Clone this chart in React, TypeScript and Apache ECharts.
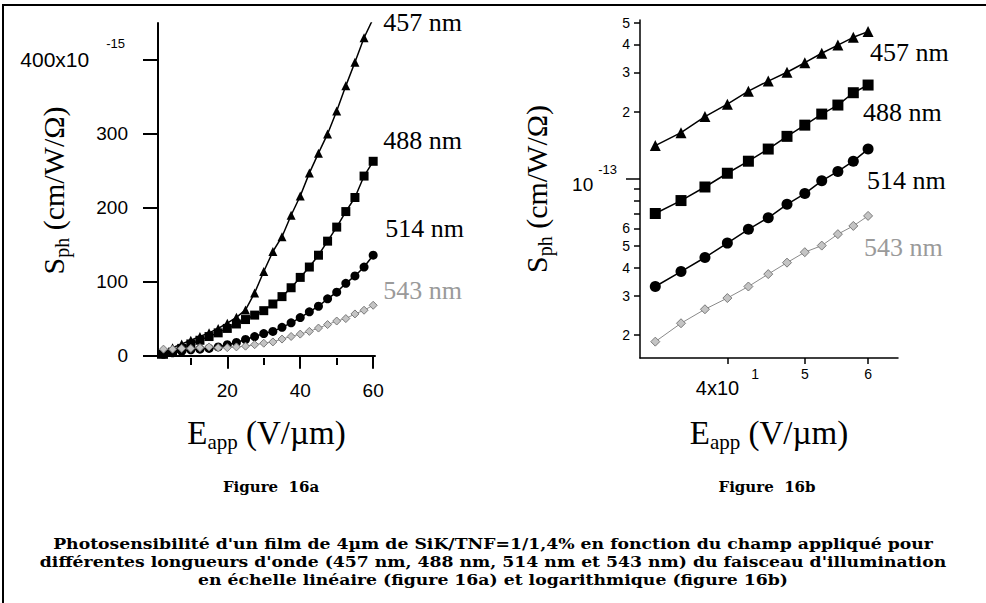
import React, { useEffect, useRef } from 'react';
import * as echarts from 'echarts';

// Applied field E_app (V/µm)
const fieldValues = [2.5, 5, 7.5, 10, 12.5, 15, 17.5, 20, 22.5, 25, 27.5, 30, 32.5, 35, 37.5, 40, 42.5, 45, 47.5, 50, 52.5, 55, 57.5, 60];
// Photosensitivity S_ph in units of 1e-15 cm/W/Ω
const s457 = [6, 11, 16, 21, 26, 31, 37, 44, 52, 62, 85, 114, 141, 161, 190, 216, 247, 274, 300, 331, 365, 397, 430, 456];
const s488 = [2, 5, 10, 16, 21, 26, 31, 37, 43, 49, 55, 61, 70, 80, 92, 106, 120, 136, 155, 174, 195, 214, 243, 263];
const s514 = [2, 4, 6, 8, 9, 10, 12, 15, 18, 22, 26, 30, 33, 38.5, 44.5, 51.6, 59.5, 67, 77, 86, 98, 108, 120, 136];
const s543 = [9, 9, 10, 10, 11, 12, 11, 11, 12, 13, 15, 17, 18.7, 22.6, 26.1, 29.3, 33, 37.5, 42.2, 47, 50.3, 56.6, 61.6, 68.3];
const seriesNames = ['457 nm', '488 nm', '514 nm', '543 nm'];

// Tick values
const yTicksA = [0, 100, 200, 300, 400];
const xTicksA = [20, 40, 60];
const xMinorTicksA = [10, 30, 50];
const xTicksB = [40, 50, 60];
const yMajorTicksB = [100];
const yMinorTicksB = [20, 30, 40, 50, 60, 70, 80, 90, 200, 300, 400, 500];
const yMinorLabelsB = [20, 30, 40, 50, 60, 200, 300, 400, 500];
const logPlotStart = 32.5;

const SERIF = '"Liberation Serif", "Times New Roman", serif';
const SANS = '"Liberation Sans", Arial, sans-serif';
const CAPTION_FONT = '"DejaVu Serif", serif';

export default function App() {
  const ref = useRef<HTMLDivElement>(null);

  useEffect(() => {
    if (!ref.current) return;
    const chart = echarts.init(ref.current, null, { renderer: 'svg' });

    const styles = [
      { symbol: 'triangle', sizeA: 9, sizeB: 11, color: '#000', border: '#000', line: '#000', lw: 1.5, labelColor: '#000', offA: [2, 4], offB: [-6, 21] },
      { symbol: 'rect', sizeA: 9, sizeB: 11, color: '#000', border: '#000', line: '#000', lw: 1.5, labelColor: '#000', offA: [2, -21], offB: [-13, 27] },
      { symbol: 'circle', sizeA: 9, sizeB: 11, color: '#000', border: '#000', line: '#000', lw: 1.5, labelColor: '#000', offA: [4, -27], offB: [-9, 31] },
      { symbol: 'diamond', sizeA: 8, sizeB: 9, color: '#c4c4c4', border: '#7a7a7a', line: '#8a8a8a', lw: 1, labelColor: '#9a9a9a', offA: [2, -15], offB: [-12, 32] },
    ];
    const allSeries = [s457, s488, s514, s543];

    const series: any[] = [];
    allSeries.forEach((vals, k) => {
      const st = styles[k];
      const dataA = fieldValues.map((x, i) => [x, vals[i]]);
      const dataB = fieldValues.map((x, i) => [x, vals[i]]).filter((d) => d[0] >= logPlotStart);
      const common = {
        type: 'line',
        name: seriesNames[k],
        symbol: st.symbol,
        showSymbol: true,
        lineStyle: { color: st.line, width: st.lw },
        itemStyle: { color: st.color, borderColor: st.border, borderWidth: k === 3 ? 1 : 0 },
      };
      series.push({
        ...common,
        xAxisIndex: 0,
        yAxisIndex: 0,
        symbolSize: st.sizeA,
        data: dataA,
        endLabel: {
          show: true,
          formatter: seriesNames[k],
          offset: st.offA,
          fontFamily: SERIF,
          fontSize: 26,
          color: st.labelColor,
        },
      });
      series.push({
        ...common,
        xAxisIndex: 2,
        yAxisIndex: 1,
        symbolSize: st.sizeB,
        data: dataB,
        endLabel: {
          show: true,
          formatter: seriesNames[k],
          offset: st.offB,
          fontFamily: SERIF,
          fontSize: 26,
          color: st.labelColor,
        },
      });
    });

    const sphName = '{s|S}{sub|ph}{s| (cm/W/Ω)}';
    const sphRich = {
      s: { fontSize: 30, fontFamily: SERIF, color: '#000', verticalAlign: 'top' },
      sub: { fontSize: 20, fontFamily: SERIF, color: '#000', verticalAlign: 'top', padding: [14, 0, 0, 0] },
    };
    const eName = '{e|E}{sub|app}{e| (V/µm)}';
    const eRich = {
      e: { fontSize: 33, fontFamily: SERIF, color: '#000', verticalAlign: 'top' },
      sub: { fontSize: 21, fontFamily: SERIF, color: '#000', verticalAlign: 'top', padding: [15, 0, 0, 0] },
    };

    const option: any = {
      animation: false,
      backgroundColor: '#fff',
      grid: [
        { left: 158, top: 23, width: 217, height: 335, containLabel: false },
        { left: 640, top: 20, width: 258, height: 338, containLabel: false },
      ],
      xAxis: [
        {
          type: 'value',
          gridIndex: 0,
          position: 'bottom',
          min: 1,
          max: 60.5,
          axisLine: { show: true, lineStyle: { color: '#000', width: 2 } },
          axisTick: { show: true, customValues: xTicksA, length: 13, lineStyle: { color: '#000', width: 2 } },
          axisLabel: { show: true, customValues: xTicksA, margin: 23, fontSize: 19, fontFamily: SANS, color: '#000' },
          splitLine: { show: false },
          name: eName,
          nameLocation: 'middle',
          nameGap: 58,
          nameMoveOverlap: false,
          nameTextStyle: { rich: eRich },
        },
        {
          type: 'value',
          gridIndex: 0,
          position: 'bottom',
          min: 1,
          max: 60.5,
          axisLine: { show: false },
          axisTick: { show: true, customValues: xMinorTicksA, length: 7, lineStyle: { color: '#000', width: 2 } },
          axisLabel: { show: false },
          splitLine: { show: false },
        },
        {
          type: 'log',
          logBase: 10,
          gridIndex: 1,
          position: 'bottom',
          min: 31.1,
          max: 65.4,
          axisLine: { show: true, lineStyle: { color: '#000', width: 1.5 } },
          axisTick: { show: true, customValues: xTicksB, length: 6, lineStyle: { color: '#000', width: 1.5 } },
          axisLabel: {
            show: true,
            customValues: xTicksB,
            margin: 9,
            fontSize: 14,
            fontFamily: SANS,
            color: '#000',
            formatter: (v: number) => {
              const r = Math.round(v);
              if (r === 40) return '{a|4x10}{b|1}';
              return String(r / 10);
            },
            rich: {
              a: { fontSize: 20, fontFamily: SANS, color: '#000', verticalAlign: 'top', padding: [11, 0, 0, 0] },
              b: { fontSize: 14, fontFamily: SANS, color: '#000', verticalAlign: 'top', padding: [0, 0, 0, 12] },
            },
          },
          splitLine: { show: false },
          name: eName,
          nameLocation: 'middle',
          nameGap: 58,
          nameMoveOverlap: false,
          nameTextStyle: { rich: eRich },
        },
      ],
      yAxis: [
        {
          type: 'value',
          gridIndex: 0,
          position: 'left',
          min: -3,
          max: 450,
          axisLine: { show: true, lineStyle: { color: '#000', width: 2 } },
          axisTick: { show: true, customValues: yTicksA, length: 15, lineStyle: { color: '#000', width: 2 } },
          axisLabel: {
            show: true,
            customValues: yTicksA,
            margin: 30,
            fontSize: 19,
            fontFamily: SANS,
            color: '#000',
            formatter: (v: number) => {
              const r = Math.round(v);
              if (r === 400) return '{m|400x10}{p|-15}';
              return String(r);
            },
            rich: {
              m: { fontSize: 21, fontFamily: SANS, color: '#000', verticalAlign: 'top', padding: [12, 0, 12, 0] },
              p: { fontSize: 13, fontFamily: SANS, color: '#000', verticalAlign: 'top', padding: [0, 3, 0, 17] },
            },
          },
          splitLine: { show: false },
          name: sphName,
          nameLocation: 'middle',
          nameRotate: 90,
          nameGap: 86,
          nameMoveOverlap: false,
          nameTextStyle: { rich: sphRich },
        },
        {
          type: 'log',
          logBase: 10,
          gridIndex: 1,
          position: 'left',
          min: 15.8,
          max: 514,
          axisLine: { show: true, lineStyle: { color: '#000', width: 1.5 } },
          axisTick: { show: true, customValues: yMinorTicksB, length: 6, lineStyle: { color: '#000', width: 1.5 } },
          axisLabel: {
            show: true,
            customValues: yMinorLabelsB,
            margin: 10,
            fontSize: 14,
            fontFamily: SANS,
            color: '#000',
            formatter: (v: number) => {
              const r = Math.round(v);
              return String(r >= 100 ? r / 100 : r / 10);
            },
          },
          splitLine: { show: false },
          name: sphName,
          nameLocation: 'middle',
          nameRotate: 90,
          nameGap: 85,
          nameMoveOverlap: false,
          nameTextStyle: { rich: sphRich },
        },
        {
          type: 'log',
          logBase: 10,
          gridIndex: 1,
          position: 'left',
          min: 15.8,
          max: 514,
          axisLine: { show: false },
          axisTick: { show: true, customValues: yMajorTicksB, length: 14, lineStyle: { color: '#000', width: 1.5 } },
          axisLabel: {
            show: true,
            customValues: yMajorTicksB,
            margin: 23,
            fontSize: 19,
            fontFamily: SANS,
            color: '#000',
            formatter: () => '{t|10}{u|-13}',
            rich: {
              t: { fontSize: 19, fontFamily: SANS, color: '#000', verticalAlign: 'top', padding: [12, 0, 0, 0] },
              u: { fontSize: 13, fontFamily: SANS, color: '#000', verticalAlign: 'top', padding: [0, 0, 0, 5] },
            },
          },
          splitLine: { show: false },
        },
      ],
      series,
      graphic: [
        {
          type: 'rect',
          silent: true,
          shape: { x: 3, y: 5, width: 1000, height: 620 },
          style: { fill: 'none', stroke: '#000', lineWidth: 2 },
        },
        {
          type: 'text',
          x: 271,
          y: 487,
          style: { text: 'Figure  16a', align: 'center', verticalAlign: 'middle', fontSize: 15, fontWeight: 'bold', fontFamily: CAPTION_FONT, fill: '#000' },
        },
        {
          type: 'text',
          x: 767,
          y: 487,
          style: { text: 'Figure  16b', align: 'center', verticalAlign: 'middle', fontSize: 15, fontWeight: 'bold', fontFamily: CAPTION_FONT, fill: '#000' },
        },
        {
          type: 'text',
          x: 493,
          y: 562,
          scaleX: 1.15,
          scaleY: 1,
          style: {
            text:
              "Photosensibilité d'un film de 4µm de SiK/TNF=1/1,4% en fonction du champ appliqué pour\n" +
              "différentes longueurs d'onde (457 nm, 488 nm, 514 nm et 543 nm) du faisceau d'illumination\n" +
              'en échelle linéaire (figure 16a) et logarithmique (figure 16b)',
            align: 'center',
            verticalAlign: 'middle',
            lineHeight: 18,
            fontSize: 15,
            fontWeight: 'bold',
            fontFamily: CAPTION_FONT,
            fill: '#000',
          },
        },
      ],
    };

    chart.setOption(option);
    return () => {
      chart.dispose();
    };
  }, []);

  return (
    <div
      ref={ref}
      style={{ position: 'fixed', left: 0, top: 0, width: 986, height: 603, background: '#fff' }}
    />
  );
}
